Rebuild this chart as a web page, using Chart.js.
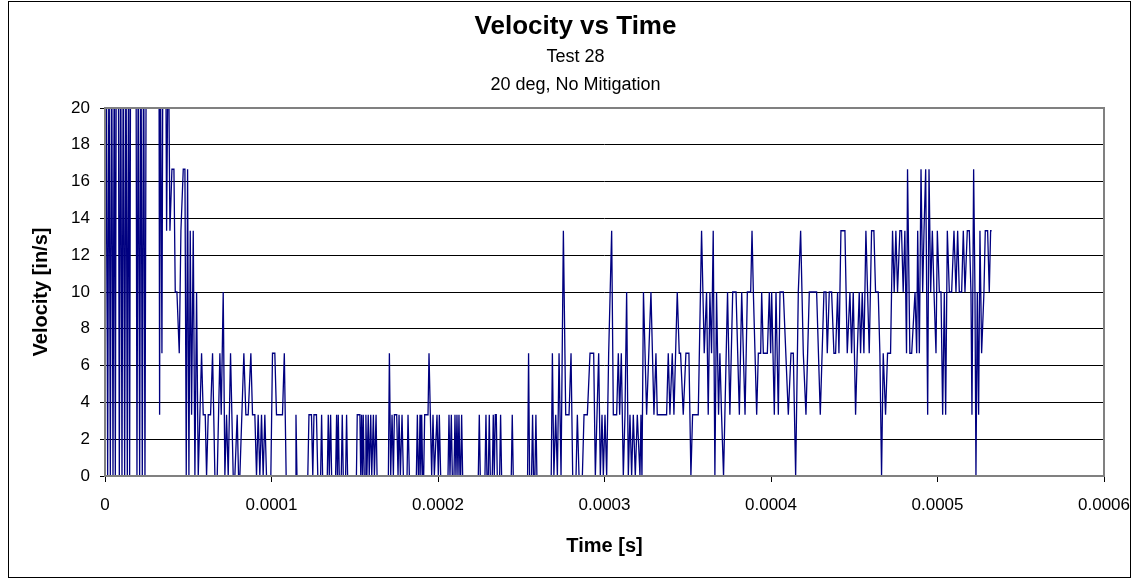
<!DOCTYPE html>
<html>
<head>
<meta charset="utf-8">
<script src="https://cdn.jsdelivr.net/npm/chart.js@4.4.1/dist/chart.umd.min.js"></script>
<style>html,body{margin:0;padding:0;background:#fff}canvas{display:block}</style>
</head>
<body>
<canvas id="c" width="1139" height="581"></canvas>
<script>
const chartTitle = 'Velocity vs Time';
const chartSubtitles = ['Test 28', '20 deg, No Mitigation'];
const xAxisTitle = 'Time [s]';
const yAxisTitle = 'Velocity [in/s]';
const xTickLabels = ['0', '0.0001', '0.0002', '0.0003', '0.0004', '0.0005', '0.0006'];
const yTickLabels = ['0', '2', '4', '6', '8', '10', '12', '14', '16', '18', '20'];

// sample times in microseconds
const timeMicroseconds = [
  0,0.8,1.6,2.4,3.2,4,4.8,5.6,6.2,6.8, 8,8.6,9.4,10.2,11,11.8,12.6,13.4,14.2,14.8, 15.4,18.6,19.2,20,20.8,21.6,22.4,23.2,24,24.8, 32.4,32.8,33.2,34.2,34.8,36.4,37,38,39,40.2, 41.4,42.2,43.2,44.6,45.6,47,48,48.8,49.6,50.4, 51.2,52,53,54,55,56,
  58,59,60.2,61,62,63.4,64.6,66,67.4,68.2, 69,69.8,71,72,73,74,75.4,77,78,79.4, 80.2,81,83.4,84.6,86,87.6,88.6,90,91,92, 93,94,95,96,97,99.6,100.6,102,103,106.6, 107.7,108.8,
  114.2,114.7,115.3,121.8,122.5,124,124.8,125.5,127,127.8, 129.5,130.1,130.7,133.5,134.1,134.7,135.5,136.1,138.5,139.1, 139.6,140.1,140.7,141.9,142.5,143.1,144.5,145.1,145.7,151, 151.5,153.1,153.6,154.1,154.6,155.1,155.7,156.2,156.7,157.3, 158.1,158.7,159.6,160.2,161.2,161.8,162.8,163.4,
  170.2,170.8,171.6,172.4,173.2,173.8,175.2,176,176.6,177.4, 178.4,179.2,181.4,182,182.8,187,187.6,188.2,188.6,189.2, 189.7,190.2,190.8,191.4,192,194,194.6,195.4,196.2,197, 197.8,199.4,200.2,200.8,201.6,206,206.6,207.2,208,208.6, 209.6,210.2,210.8,211.4,212,212.6,213.2,213.6,214.2,214.8,
  224.2,224.8,225.4,228.2,228.8,229.4,230.2,230.8,231.4,232.6, 233.2,233.8,234.4,235,235.6,237,237.6,238.2,244,244.6, 245.2,253.8,254.4,255,256.2,256.8,257.4,258.2,258.8,259.4, 268,268.7,269.6,270.7,271.7,272.7,273.9,275.3,276.7,278.7, 279.9,280.9,282.9,283.7,284.7,286.7,287.7,289.7,291.3,293.5, 294.5,296.5,297.5,298.5,299.3,300.3,301.3,302.5,304.3,305.3, 307.3,308.3,309.1,310.1,311.3,312.3,313.3,314.3,315.3,316.3, 317.3,318.5,319.7,321.3,321.9,322.5,323.4,
  325.3,327.9,329.7,330.9,331.7,337.3,338.3,339.3,340.7,341.7, 343.7,344.9,345.7,347.3,348.9,350.7,351.9,352.9,356.3,358.3, 359.9,361.3,362.3,363.3,364.3,365.3,366.3,367.3,368.5,369.3, 370.3,371.5,372.3,373.9,375.3,377,
  379,381,382.4,384.4,385.8,387.8,388.6,389.4,390.4,391.4, 392.4,393.8,394.4,395.4,397.8,399,399.8,400.4,402,403, 404.4,405.4,407.4,410.4,412,413.4,414.8,416.4,417.8,419.4, 421,423,427.4,429.6,431.8,
  433,433.8,435,436.4,437.8,438.8,440,440.8,442,444.4, 445.8,447.4,448.4,449.4,450.8,451.8,453,453.8,454.8,455.8, 457,458,459,460.4,461.8,462.8,464.4,465.4,466.4,467.4, 468.8,470,471.8,473,474,475,476,477.4,478.4,479.4, 480.4,481.4,482,483.4,484.5,486.5,487.5,488.1,489.1,490.1, 491.1,491.9,492.9,494.1,494.9,495.9,496.9,497.9,499.1,499.9, 501.1,502.1,503.1,504.1,504.9,505.9,507.1,508.5,509.9,511.1, 512.1,513.1,514.5,515.5,516.5,517.9,519.1,520.1,520.7,521.7, 522.5,523.1,523.9,524.7,525.5,526.5,527.9,528.7,530.1,531.1, 531.9,532.5
];

// velocity in in/s (values above 20 run off the top of the plot)
const velocityInPerSec = [
  0,25,0,25,0,25,0,25,0,25, 25,0,25,0,25,0,25,0,25,0, 25,25,0,25,0,25,0,25,0,25, 25,3.33,25,6.67,25,25,13.33,25,13.33,16.67, 16.67,10,10,6.67,13.33,16.67,16.67,0,16.67,0, 13.33,3.33,13.33,0,10,0,
  6.67,3.33,3.33,0,3.33,3.33,6.67,0,0,3.33, 6.67,3.33,10,0,3.33,0,6.67,0,0,3.33, 0,0,6.67,3.33,3.33,6.67,3.33,3.33,0,3.33, 0,3.33,0,3.33,0,0,6.67,6.67,3.33,3.33, 6.67,0,
  0,3.33,0,0,3.33,3.33,0,3.33,3.33,0, 0,3.33,0,0,3.33,0,3.33,0,0,3.33, 0,3.33,0,0,3.33,0,0,3.33,0,0, 3.33,3.33,0,3.33,0,3.33,0,0,3.33,0, 3.33,0,3.33,0,3.33,0,3.33,0,
  0,6.67,0,3.33,0,3.33,3.33,0,3.33,0, 3.33,0,0,3.33,0,0,3.33,0,0,3.33, 0,3.33,0,0,3.33,3.33,6.67,3.33,0,3.33, 0,3.33,0,3.33,0,0,3.33,0,3.33,0, 0,3.33,0,3.33,0,3.33,0,0,3.33,0,
  0,3.33,0,0,3.33,0,0,3.33,0,0, 3.33,0,3.33,3.33,0,0,3.33,0,0,3.33, 0,0,6.67,0,0,3.33,0,0,3.33,0, 0,6.67,0,3.33,0,6.67,0,13.33,3.33,3.33, 6.67,0,0,3.33,0,0,3.33,3.33,6.67,6.67, 0,6.67,0,3.33,0,3.33,0,6.67,13.33,3.33, 3.33,6.67,3.33,6.67,0,3.33,10,0,3.33,0, 3.33,0,3.33,0,3.33,0,10,
  3.33,10,3.33,6.67,3.33,3.33,6.67,3.33,6.67,3.33, 10,6.67,6.67,3.33,6.67,6.67,0,3.33,3.33,13.33, 6.67,10,3.33,10,6.67,13.33,0,10,3.33,6.67, 3.33,0,3.33,10,3.33,10,
  10,3.33,10,3.33,10,10,13.33,10,6.67,3.33, 6.67,6.67,10,6.67,6.67,10,6.67,10,3.33,10, 3.33,10,10,3.33,6.67,6.67,0,10,13.33,6.67, 3.33,10,10,3.33,10,
  10,6.67,10,10,6.67,6.67,10,6.67,13.33,13.33, 6.67,10,6.67,10,3.33,6.67,10,6.67,10,6.67, 13.33,10,6.67,13.33,13.33,10,10,6.67,0,6.67, 3.33,6.67,6.67,13.33,10,13.33,10,13.33,13.33,10, 13.33,6.67,16.67,6.67,6.67,10,6.67,13.33,6.67,16.67, 10,13.33,16.67,3.33,16.67,10,13.33,10,6.67,13.33, 10,10,3.33,10,3.33,13.33,10,10,13.33,10, 13.33,10,10,13.33,10,13.33,13.33,10,3.33,16.67, 10,0,10,3.33,13.33,6.67,10,13.33,13.33,10, 13.33,13.33
];

const points = timeMicroseconds.map((t, i) => ({ x: t / 1e6, y: velocityInPerSec[i] }));

const FONT = "'Liberation Sans', Arial, sans-serif";

const framePlugin = {
  id: 'frame',
  beforeDraw(chart) {
    const ctx = chart.ctx;
    ctx.save();
    ctx.fillStyle = '#ffffff';
    ctx.fillRect(0, 0, chart.width, chart.height);
    ctx.restore();
  },
  afterDatasetsDraw(chart) {
    const ctx = chart.ctx;
    const a = chart.chartArea;
    ctx.save();
    ctx.strokeStyle = '#808080';
    ctx.lineWidth = 2;
    ctx.strokeRect(a.left, a.top, a.right - a.left, a.bottom - a.top);
    ctx.restore();
  },
  afterDraw(chart) {
    const ctx = chart.ctx;
    ctx.save();
    ctx.strokeStyle = '#000000';
    ctx.lineWidth = 1;
    ctx.strokeRect(8.5, 1.5, 1122, 576);
    ctx.restore();
  }
};

new Chart(document.getElementById('c'), {
  type: 'line',
  data: {
    datasets: [{
      data: points,
      borderColor: '#000080',
      borderWidth: 1.3,
      pointRadius: 0,
      tension: 0,
      fill: false
    }]
  },
  options: {
    responsive: false,
    animation: false,
    devicePixelRatio: 1,
    layout: { padding: { left: 12, right: 0, top: 0, bottom: 0 } },
    plugins: {
      legend: { display: false },
      tooltip: { enabled: false },
      title: {
        display: true,
        text: chartTitle,
        color: '#000',
        font: { family: FONT, size: 26, weight: 'bold', lineHeight: 1.2 },
        padding: { top: 11.6, bottom: 0 }
      },
      subtitle: {
        display: true,
        text: chartSubtitles,
        color: '#000',
        font: { family: FONT, size: 18, lineHeight: 28 / 18 },
        padding: { top: 0, bottom: 9.2 }
      }
    },
    scales: {
      x: {
        type: 'linear',
        min: 0,
        max: 0.0006,
        ticks: {
          stepSize: 0.0001,
          color: '#000',
          font: { family: FONT, size: 17 },
          padding: 13,
          maxRotation: 0,
          callback: (v, i) => xTickLabels[i]
        },
        grid: { drawOnChartArea: false, drawTicks: true, tickLength: 6, tickColor: '#000', color: '#000' },
        border: { display: false },
        title: {
          display: true,
          text: xAxisTitle,
          color: '#000',
          font: { family: FONT, size: 20, weight: 'bold', lineHeight: 1.2 },
          padding: { top: 0, bottom: 23 }
        },
        afterFit: (s) => { s.height = 105; s.paddingLeft = 0; s.paddingRight = 0; }
      },
      y: {
        type: 'linear',
        min: 0,
        max: 20,
        ticks: {
          stepSize: 2,
          color: '#000',
          font: { family: FONT, size: 17 },
          padding: 10,
          callback: (v, i) => yTickLabels[i]
        },
        grid: { color: '#000', lineWidth: 1, drawTicks: true, tickLength: 5, tickColor: '#000' },
        border: { display: false },
        title: {
          display: true,
          text: yAxisTitle,
          color: '#000',
          font: { family: FONT, size: 20, weight: 'bold', lineHeight: 1.2 },
          padding: { top: 17, bottom: 0 }
        },
        afterFit: (s) => { s.width = 93; s.paddingTop = 0; s.paddingBottom = 0; }
      },
      yRight: {
        type: 'linear',
        position: 'right',
        display: true,
        ticks: { display: false },
        grid: { display: false },
        border: { display: false },
        afterFit: (s) => { s.width = 35; }
      }
    }
  },
  plugins: [framePlugin]
});
</script>
</body>
</html>
